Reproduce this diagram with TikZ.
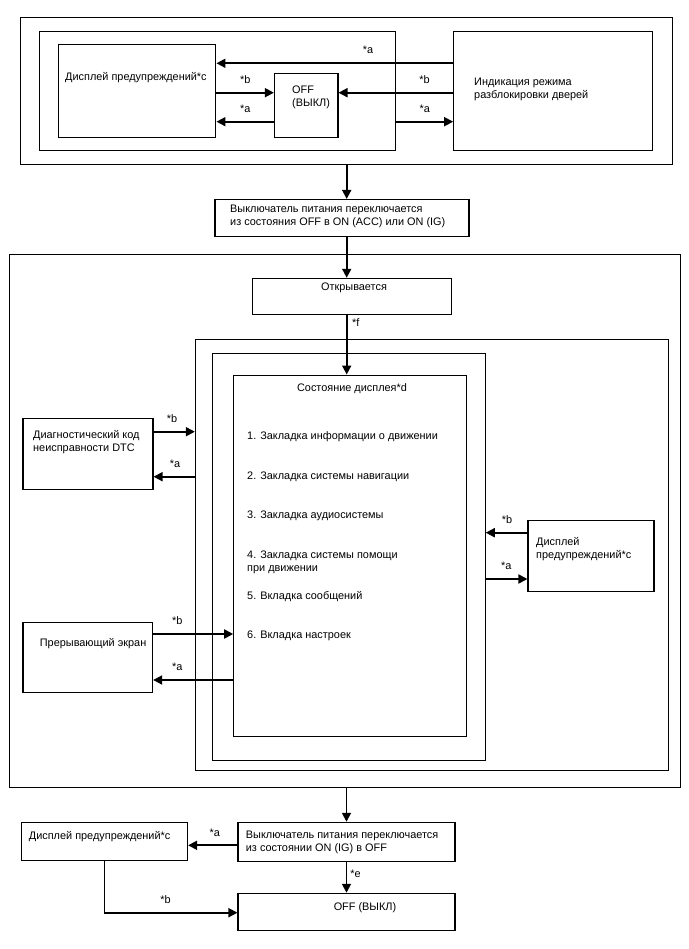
\documentclass[tikz,border=0pt]{standalone}
\usepackage{fontspec}
\setmainfont{Liberation Sans}
\usetikzlibrary{arrows.meta}
\tikzset{
  % plain box, width and height given
  Bx/.style 2 args={rectangle,draw,line width=1.1pt,minimum width=#1,
                    minimum height=#2,inner sep=0pt},
  % box text, upper left corner
  Tx/.style={anchor=north west,inner sep=0pt,align=left,
             font=\fontsize{10.9}{13}\selectfont},
  % centred heading
  Hd/.style={anchor=north,inner sep=0pt,font=\fontsize{10.9}{13}\selectfont},
  % arrow label
  Lb/.style={inner sep=0pt,font=\fontsize{10.9}{13}\selectfont},
  Arr/.style={-{Triangle[length=9pt,width=9pt]},line width=1.8pt},
}
\begin{document}
\begin{tikzpicture}[x=1pt,y=-1pt]
\useasboundingbox (0,0) rectangle (688,949);
% ── Before switching on ─────────────────────
\node[Bx={652pt}{147pt}] at (346.7,91.4) (topF) {};
\node[Bx={356pt}{119pt}] at (217.7,91.4) (leftF) {};
\node[Bx={199pt}{119pt}] at (553.2,91.4) (indT) {};
\node[Bx={157pt}{93pt}] at (137.4,91.2) (warnT) {};
\node[Bx={63.5pt}{64.6pt}] at (306.2,105.5) (offT) {};
\node[Tx] at (65,72) (warnTt) {Дисплей предупреждений*c};
\node[Tx] at (292,86) (offTt) {OFF\\(ВЫКЛ)};
\node[Tx] at (474,77.7) (indTt) {Индикация режима\\разблокировки дверей};
\draw[Arr] (indT.west|-0,63.3) -- node[Lb,pos=.36,yshift=13pt]{*a} (warnT.east|-0,63.3);
\draw[Arr] (warnT.east|-0,92.7) -- node[Lb,pos=.5,yshift=13pt]{*b} (offT.west|-0,92.7);
\draw[Arr] (offT.west|-0,121.7) -- node[Lb,pos=.5,yshift=13pt]{*a} (warnT.east|-0,121.7);
\draw[Arr] (indT.west|-0,92.7) -- node[Lb,pos=.25,yshift=13pt]{*b} (offT.east|-0,92.7);
\draw[Arr] (leftF.east|-0,121.7) -- node[Lb,pos=.5,yshift=13pt]{*a} (indT.west|-0,121.7);
% ── Switching on ────────────────────────────
\node[Bx={254pt}{37pt}] at (342,218) (sw1) {};
\node[Tx] at (230,205) (sw1t)
  {Выключатель питания переключается\\из состояния OFF в ON (ACC) или ON (IG)};
\draw[Arr] (topF.south) -- (topF.south|-sw1.north);
% ── Display states ──────────────────────────
\node[Bx={671pt}{533pt}] at (345.2,520.7) (mainF) {};
\node[Bx={198.5pt}{35.7pt}] at (352,296.2) (openB) {};
\node[Hd] at (354,283) (openBt) {Открывается};
\draw[Arr] (sw1.south-|topF.south) -- (openB.north-|topF.south);
\node[Bx={473pt}{431pt}] at (431.9,555) (frA) {};
\node[Bx={273pt}{407pt}] at (348.7,556.7) (frB) {};
\node[Bx={232.5pt}{361.7pt}] at (350,555.9) (disp) {};
\draw[Arr] (openB.south-|topF.south) -- node[Lb,pos=.14,xshift=9pt]{*f}
  (disp.north-|topF.south);
\node[Hd] at (352,383.3) (dispt) {Состояние дисплея*d};
\node[Tx] at (247,431) (it1) {1. Закладка информации о движении};
\node[Tx] at (247,472) (it2) {2. Закладка системы навигации};
\node[Tx] at (247,511) (it3) {3. Закладка аудиосистемы};
\node[Tx] at (247,551) (it4) {4. Закладка системы помощи\\при движении};
\node[Tx] at (247,591) (it5) {5. Вкладка сообщений};
\node[Tx] at (247,631) (it6) {6. Вкладка настроек};
\node[Bx={130pt}{71pt}] at (88,453.8) (dtc) {};
\node[Tx] at (33,430) (dtct) {Диагностический код\\неисправности DTC};
\draw[Arr] (dtc.east|-0,431.7) -- node[Lb,pos=.45,yshift=13pt]{*b} (frA.west|-0,431.7);
\draw[Arr] (frA.west|-0,476.7) -- node[Lb,pos=.48,yshift=13pt]{*a} (dtc.east|-0,476.7);
\node[Bx={126pt}{70.3pt}] at (591,555.9) (warnR) {};
\node[Tx] at (536,537) (warnRt) {Дисплей\\предупреждений*c};
\draw[Arr] (warnR.west|-0,532.7) -- node[Lb,pos=.49,yshift=13pt]{*b} (frB.east|-0,532.7);
\draw[Arr] (frB.east|-0,579) -- node[Lb,pos=.49,yshift=13pt]{*a} (warnR.west|-0,579);
\node[Bx={129.6pt}{70.7pt}] at (87.8,657.4) (intr) {};
\node[Tx] at (39.7,638) (intrt) {Прерывающий экран};
\draw[Arr] (intr.east|-0,634) -- node[Lb,pos=.3,yshift=13pt]{*b} (disp.west|-0,634);
\draw[Arr] (disp.west|-0,680) -- node[Lb,pos=.7,yshift=13pt]{*a} (intr.east|-0,680);
% ── Switching off ───────────────────────────
\node[Bx={217pt}{39.4pt}] at (346.5,842) (sw2) {};
\node[Tx] at (245.7,831) (sw2t)
  {Выключатель питания переключается\\из состоянии ON (IG) в OFF};
\draw[Arr] (sw2.north|-mainF.south) -- (sw2.north);
\node[Bx={166.3pt}{37.7pt}] at (104.4,841.2) (warnB) {};
\node[Tx] at (28.7,831) (warnBt) {Дисплей предупреждений*c};
\draw[Arr] (sw2.west|-0,845.3) -- node[Lb,pos=.46,yshift=13pt]{*a} (warnB.east|-0,845.3);
\node[Bx={217pt}{37.4pt}] at (346.5,912) (off2) {};
\node[Hd] at (365,902.7) (off2t) {OFF (ВЫКЛ)};
\draw[Arr] (sw2.south) -- node[Lb,pos=.37,xshift=9pt]{*e} (off2.north);
\draw[Arr] (warnB.south) |- node[Lb,pos=.73,yshift=13pt]{*b} (off2.west|-0,912.7);
\end{tikzpicture}
\end{document}
